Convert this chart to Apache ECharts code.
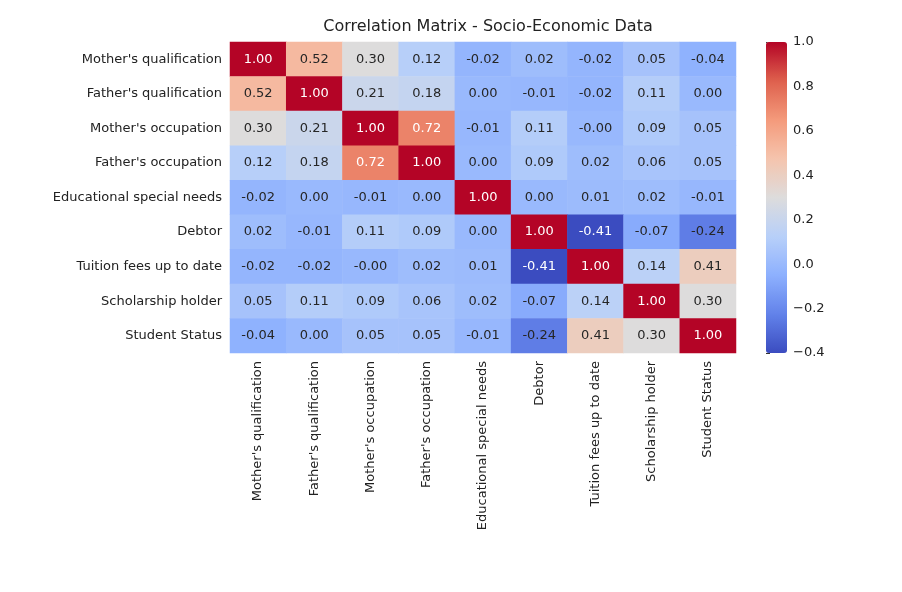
<!DOCTYPE html>
<html lang="en">
<head>
  <meta charset="UTF-8">
  <title>Correlation Matrix</title>
  <style>
    body { margin: 0; background: #fff; }
    #root { width: 902px; height: 592px; }
  </style>
</head>
<body>
  <div id="root"></div>
</body>
<script src="https://cdn.jsdelivr.net/npm/echarts@6/dist/echarts.min.js"></script>
<script>
  // variable names, same order on both axes
  const labels = ["Mother's qualification", "Father's qualification", "Mother's occupation",
    "Father's occupation", "Educational special needs", "Debtor", "Tuition fees up to date",
    "Scholarship holder", "Student Status"]

  // correlation values, one row per variable
  const matrix = [
    [1.00, 0.52, 0.30, 0.12, -0.02, 0.02, -0.02, 0.05, -0.04],
    [0.52, 1.00, 0.21, 0.18, 0.00, -0.01, -0.02, 0.11, 0.00],
    [0.30, 0.21, 1.00, 0.72, -0.01, 0.11, -0.004, 0.09, 0.05],
    [0.12, 0.18, 0.72, 1.00, 0.00, 0.09, 0.02, 0.06, 0.05],
    [-0.02, 0.00, -0.01, 0.00, 1.00, 0.00, 0.01, 0.02, -0.01],
    [0.02, -0.01, 0.11, 0.09, 0.00, 1.00, -0.41, -0.07, -0.24],
    [-0.02, -0.02, -0.004, 0.02, 0.01, -0.41, 1.00, 0.14, 0.41],
    [0.05, 0.11, 0.09, 0.06, 0.02, -0.07, 0.14, 1.00, 0.30],
    [-0.04, 0.00, 0.05, 0.05, -0.01, -0.24, 0.41, 0.30, 1.00]
  ]

  const barTicks = [-0.4, 1.0]

  const coolwarm = ['#3b4cc0', '#6282ea', '#8db0fe', '#b8d0f9', '#dddcdc',
    '#f5c4ad', '#f49a7b', '#de604d', '#b40426']

  let data = []
  matrix.forEach((row, i) => {
    row.forEach((v, j) => {
      data.push({
        value: [j, i, v],
        label: { color: (v > 0.6 || v < -0.3) ? '#fff' : '#262626' }
      })
    })
  })

  let myChart = echarts.init(document.getElementById('root'))

  let option = {
    animation: false,
    textStyle: { fontFamily: 'DejaVu Sans' },
    title: {
      text: 'Correlation Matrix - Socio-Economic Data',
      left: 483, top: 14, textAlign: 'center',
      textStyle: { fontSize: 16, fontWeight: 'normal', color: '#222' }
    },
    grid: [
      { left: 230, top: 42, width: 506, height: 311 },
      { left: 766, top: 42, width: 21, height: 311 }
    ],
    xAxis: [
      {
        type: 'category', data: labels, gridIndex: 0,
        axisLine: { show: false },
        axisTick: { lineStyle: { color: '#333' }, length: 4 },
        axisLabel: { rotate: 90, fontSize: 13, color: '#222', interval: 0, margin: 8 }
      },
      { type: 'value', gridIndex: 1, show: false, min: 0, max: 1 }
    ],
    yAxis: [
      {
        type: 'category', data: labels, inverse: true, gridIndex: 0,
        axisLine: { show: false },
        axisTick: { lineStyle: { color: '#333' }, length: 4 },
        axisLabel: { fontSize: 13, color: '#222', interval: 0, margin: 8 }
      },
      {
        type: 'value', gridIndex: 1, position: 'right',
        min: barTicks[0], max: barTicks[1], interval: 0.2,
        axisLine: { show: false },
        splitLine: { show: false },
        axisTick: { show: true, length: 4, lineStyle: { color: '#333' } },
        axisLabel: {
          fontSize: 13, color: '#222', margin: 6,
          formatter: v => v.toFixed(1).replace('-', '\u2212')
        }
      }
    ],
    visualMap: {
      type: 'continuous',
      seriesIndex: 0,
      dimension: 2,
      min: barTicks[0], max: barTicks[1],
      calculable: false,
      left: 766, top: 42,
      itemWidth: 21, itemHeight: 311,
      padding: 0,
      text: ['', ''],
      inRange: { color: coolwarm }
    },
    series: [
      {
        type: 'heatmap',
        xAxisIndex: 0, yAxisIndex: 0,
        data: data,
        label: {
          show: true, fontSize: 13,
          formatter: p => p.value[2].toFixed(2)
        },
        emphasis: { disabled: true }
      }
    ]
  }

  myChart.setOption(option)
</script>
</html>
